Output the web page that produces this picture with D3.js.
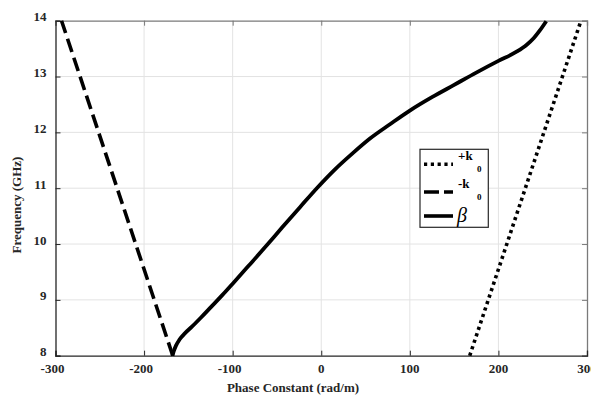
<!DOCTYPE html>
<html>
<head>
<meta charset="utf-8">
<script src="https://cdn.jsdelivr.net/npm/d3@7"></script>
<style>
  html, body { margin: 0; padding: 0; background: #fff; }
  svg { display: block; }
</style>
</head>
<body>
<svg id="chart" width="591" height="396"></svg>
<script>
// ---- data ----
const xTicks = [-300, -200, -100, 0, 100, 200, 300];
const yTicks = [8, 9, 10, 11, 12, 13, 14];
// +k0 line (beta rad/m, GHz)
const posK0Beta = [167.6, 293.2];
const posK0Freq = [8, 14];
// -k0 line
const negK0Beta = [-167.6, -293.2];
const negK0Freq = [8, 14];
// beta curve
const betaVals = [-168, -166.5, -164, -160, -154, -146, -136, -124, -112, -100, -82, -63, -44, -24, -5, 15, 35, 55, 78, 100, 125, 150, 175, 200, 220, 232, 240, 247, 254];
const betaFreq = [8.0, 8.08, 8.18, 8.29, 8.40, 8.52, 8.68, 8.88, 9.08, 9.29, 9.61, 9.95, 10.3, 10.66, 11.0, 11.33, 11.62, 11.89, 12.15, 12.39, 12.63, 12.85, 13.07, 13.28, 13.44, 13.57, 13.69, 13.83, 13.99];
const legendLabels = ["+k", "-k", "\u03B2"];

// ---- layout ----
const FONT = '"Liberation Serif", "Times New Roman", serif';
const svg = d3.select("#chart");
const L = 55.5, R = 587, T = 20.7, B = 355.7;
const x = d3.scaleLinear().domain([-300, 300]).range([L, R]);
const y = d3.scaleLinear().domain([8, 14]).range([B, T]);

// grid
const grid = svg.append("g");
grid.selectAll("line.gx").data(xTicks.slice(1, -1)).enter().append("line")
  .attr("x1", d => x(d)).attr("x2", d => x(d)).attr("y1", T).attr("y2", B)
  .attr("stroke", "#e3e3e3").attr("stroke-width", 1);
grid.selectAll("line.gy").data(yTicks.slice(1, -1)).enter().append("line")
  .attr("x1", L).attr("x2", R).attr("y1", d => y(d)).attr("y2", d => y(d))
  .attr("stroke", "#e3e3e3").attr("stroke-width", 1);

// axes (inward ticks)
const xAxisB = d3.axisBottom(x).tickValues(xTicks).tickSize(-5).tickFormat("");
const xAxisT = d3.axisTop(x).tickValues(xTicks).tickSize(-5).tickFormat("");
const yAxisL = d3.axisLeft(y).tickValues(yTicks).tickSize(-5).tickFormat("");
const yAxisR = d3.axisRight(y).tickValues(yTicks).tickSize(-5).tickFormat("");
function styleAxis(g, col) {
  g.select(".domain").attr("stroke", col).attr("stroke-width", 1.3).attr("fill", "none");
  g.selectAll(".tick line").attr("stroke", col).attr("stroke-width", 1);
}
svg.append("g").attr("transform", `translate(0,${T})`).call(xAxisT).call(g => styleAxis(g, "#7a7a7a"));
svg.append("g").attr("transform", `translate(${R},0)`).call(yAxisR).call(g => styleAxis(g, "#7a7a7a"));
svg.append("g").attr("transform", `translate(0,${B})`).call(xAxisB).call(g => styleAxis(g, "#262626"));
svg.append("g").attr("transform", `translate(${L},0)`).call(yAxisL).call(g => styleAxis(g, "#262626"));

function txt(sel) {
  return sel.style("font-family", FONT).style("font-weight", "bold").style("fill", "#262626");
}

// tick labels
txt(svg.append("g").selectAll("text").data(xTicks).enter().append("text")
  .attr("x", d => x(d) - (d < 0 ? 3 : 0)).attr("y", 373)
  .attr("text-anchor", "middle").style("font-size", "13px")
  .text(d => d));
txt(svg.append("g").selectAll("text").data(yTicks).enter().append("text")
  .attr("x", 46.5).attr("y", d => y(d) + 0.5)
  .attr("text-anchor", "end").style("font-size", "13px")
  .text(d => d));

// axis titles
txt(svg.append("text").attr("x", 293).attr("y", 392).attr("text-anchor", "middle")
  .style("font-size", "13px").text("Phase Constant (rad/m)"));
txt(svg.append("text").attr("transform", `translate(21,205) rotate(-90)`)
  .attr("text-anchor", "middle").style("font-size", "13px").text("Frequency (GHz)"));

// lines
const plot = svg.append("g");
const pts = (xs, ys) => xs.map((v, i) => [v, ys[i]]);
const lineGen = d3.line().x(d => x(d[0])).y(d => y(d[1]));
plot.append("path").datum(pts(posK0Beta, posK0Freq)).attr("d", lineGen)
  .attr("fill", "none").attr("stroke", "#000").attr("stroke-width", 3.6)
  .attr("stroke-dasharray", "3.2,3.6");
plot.append("path").datum(pts(negK0Beta, negK0Freq)).attr("d", lineGen)
  .attr("fill", "none").attr("stroke", "#000").attr("stroke-width", 3.6)
  .attr("stroke-dasharray", "14,6");
const curveGen = d3.line().x(d => x(d[0])).y(d => y(d[1])).curve(d3.curveMonotoneX);
plot.append("path").datum(pts(betaVals, betaFreq)).attr("d", curveGen)
  .attr("fill", "none").attr("stroke", "#000").attr("stroke-width", 3.8)
  .attr("stroke-linejoin", "round");

// legend
const lg = svg.append("g");
lg.append("rect").attr("x", 420).attr("y", 149.3).attr("width", 68.3).attr("height", 78)
  .attr("fill", "#fff").attr("stroke", "#262626").attr("stroke-width", 1.2);
const rowsY = [164.3, 192, 216];
const dashes = ["3.2,3.6", "15,5", null];
rowsY.forEach((ry, i) => {
  const l = lg.append("line").attr("x1", 424).attr("x2", 453).attr("y1", ry).attr("y2", ry)
    .attr("stroke", "#000").attr("stroke-width", 3.6);
  if (dashes[i]) l.attr("stroke-dasharray", dashes[i]);
});
[0, 1].forEach(i => {
  txt(lg.append("text").attr("x", 458).attr("y", rowsY[i] - 4.5).style("font-size", "13px")
    .text(legendLabels[i])).style("fill", "#000");
  txt(lg.append("text").attr("x", 477).attr("y", rowsY[i] + 8).style("font-size", "9px")
    .text("0")).style("fill", "#000");
});
lg.append("text").attr("x", 457).attr("y", 222)
  .style("font-family", FONT).style("font-size", "20px")
  .style("font-style", "italic").style("font-weight", "normal").style("fill", "#000")
  .text(legendLabels[2]);
</script>
</body>
</html>
